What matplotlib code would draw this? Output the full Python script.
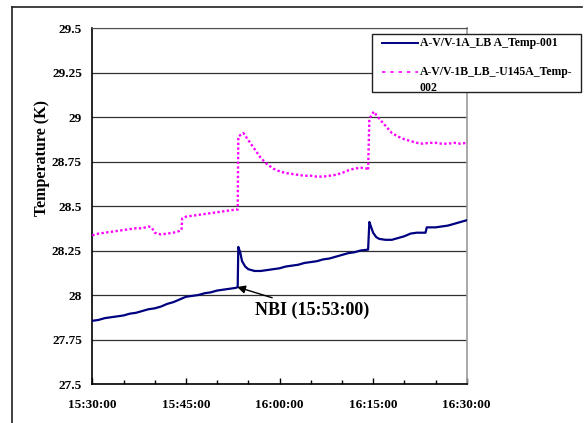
import matplotlib
matplotlib.use("Agg")
import matplotlib.pyplot as plt
from matplotlib.lines import Line2D
from matplotlib.patches import Rectangle

# ---- data (minutes after 15:30:00) ----
blue_t = [0, 1, 2, 3, 4, 5, 6, 7, 8, 9, 10, 11, 12, 13, 14, 15, 16, 17, 18, 19, 20, 21, 22, 23, 23.3,
          23.4, 23.7, 24.0, 24.5, 25, 26, 27, 28, 29, 30, 31, 32, 33, 34, 35, 36, 37, 38, 39, 40, 41, 42, 43, 44.2,
          44.4, 44.7, 45, 45.5, 46, 47, 48, 49, 50, 51, 52, 53.4, 53.6, 54, 55, 56, 57, 58, 59, 60]
blue_v = [27.855, 27.86, 27.87, 27.875, 27.88, 27.885, 27.895, 27.90, 27.91, 27.92, 27.925, 27.935, 27.95,
          27.96, 27.975, 27.99, 27.995, 28.0, 28.01, 28.015, 28.025, 28.03, 28.035, 28.04, 28.045,
          28.27, 28.24, 28.19, 28.16, 28.145, 28.135, 28.135, 28.14, 28.145, 28.15, 28.16, 28.165, 28.17, 28.18,
          28.185, 28.19, 28.2, 28.205, 28.215, 28.225, 28.235, 28.24, 28.25, 28.255,
          28.41, 28.38, 28.35, 28.325, 28.315, 28.31, 28.31, 28.32, 28.33, 28.345, 28.35, 28.35, 28.38, 28.38,
          28.38, 28.385, 28.39, 28.40, 28.41, 28.42]

mag_t = [0, 1, 2, 3, 4, 5, 6, 7, 8, 9, 9.5, 10, 11, 12, 13, 14, 14.3,
         14.4, 15, 16, 17, 18, 19, 20, 21, 22, 23, 23.3,
         23.4, 24.2, 25, 26, 27, 28, 29, 30, 31, 32, 33, 34, 35, 36, 37, 38, 39, 40, 41, 42, 43, 44, 44.2,
         44.4, 45.1, 46, 47, 48, 49, 50, 51, 52, 53, 54, 55, 56, 57, 58, 59, 60]
mag_v = [28.335, 28.345, 28.35, 28.355, 28.36, 28.365, 28.37, 28.375, 28.375, 28.385, 28.38, 28.35, 28.34,
         28.345, 28.35, 28.36, 28.365,
         28.43, 28.44, 28.445, 28.45, 28.455, 28.46, 28.465, 28.47, 28.475, 28.48, 28.48,
         28.89, 28.91, 28.87, 28.82, 28.77, 28.735, 28.71, 28.695, 28.685, 28.68, 28.675, 28.67, 28.67, 28.665,
         28.665, 28.67, 28.675, 28.685, 28.70, 28.71, 28.715, 28.71, 28.70,
         28.99, 29.03, 28.99, 28.95, 28.91, 28.89, 28.875, 28.865, 28.855, 28.85, 28.855, 28.855, 28.85, 28.85,
         28.855, 28.85, 28.855]

series_names = ["A-V/V-1A_LB A_Temp-001", "A-V/V-1B_LB_-U145A_Temp-\n002"]
x_ticks = [0, 15, 30, 45, 60]
x_ticklabels = ["15:30:00", "15:45:00", "16:00:00", "16:15:00", "16:30:00"]
y_ticks = [27.5, 27.75, 28, 28.25, 28.5, 28.75, 29, 29.25, 29.5]
y_ticklabels = ["27.5", "27.75", "28", "28.25", "28.5", "28.75", "29", "29.25", "29.5"]
annotation_text = "NBI (15:53:00)"
nbi_time = 23.2
nbi_value = 28.045

plt.rcParams['font.family'] = ['Liberation Serif', 'DejaVu Serif']
plt.rcParams['font.weight'] = 'bold'

W, H = 587, 423
fig = plt.figure(figsize=(W / 100, H / 100), dpi=100)
ax = fig.add_axes([92.3 / W, 1 - 384 / H, (466.7 - 92.3) / W, (384 - 28) / H])

blue_color = '#000080'
mag_color = '#FF00FF'
ax.plot(blue_t, blue_v, color=blue_color, lw=1.6, zorder=3)
ax.plot(mag_t, mag_v, color=mag_color, lw=1.7, linestyle=(0, (1, 1)), zorder=3)

ax.set_xlim(0, 60)
ax.set_ylim(27.5, 29.5)
ax.set_xticks(x_ticks)
ax.set_xticklabels(x_ticklabels, fontsize=9.5, fontweight='bold')
ax.set_xticks(range(0, 61, 5), minor=True)
ax.set_yticks(y_ticks)
ax.set_yticklabels(y_ticklabels, fontsize=9.5, fontweight='bold')
ax.tick_params(axis='x', which='major', direction='in', length=4, width=1, pad=11)
ax.tick_params(axis='x', which='minor', direction='in', length=3, width=1)
ax.tick_params(axis='y', which='major', direction='in', length=0, pad=7.5)
ax.yaxis.grid(True, color='#303030', lw=0.9)
ax.set_axisbelow(True)
for s in ['left', 'bottom']:
    ax.spines[s].set_color('black')
    ax.spines[s].set_linewidth(1.2)
ax.spines['top'].set_color('#505050')
ax.spines['right'].set_color('#999999')
ax.spines['right'].set_linewidth(1.2)

ax.set_ylabel("Temperature (K)", fontsize=11.5, fontweight='bold')
ax.yaxis.set_label_coords(42 / W, 1 - 157.5 / H, transform=fig.transFigure)
ax.yaxis.label.set_va('center')

ax.annotate(annotation_text, xy=(nbi_time, nbi_value), xytext=(255 / W, 1 - 310 / H),
            textcoords='figure fraction', fontsize=13, fontweight='bold', va='center', ha='left',
            arrowprops=dict(arrowstyle='-|>', color='black', lw=1, mutation_scale=12,
                            shrinkA=2, shrinkB=0))

# figure border (left and top visible)
fig.add_artist(Line2D([12 / W, 12 / W], [0, 1 - 7 / H], color='#202020', lw=1.2,
                      transform=fig.transFigure))
fig.add_artist(Line2D([12 / W, 582 / W], [1 - 7 / H, 1 - 7 / H], color='#202020', lw=1.2,
                      transform=fig.transFigure))

# legend box
fig.add_artist(Rectangle((372 / W, 1 - 92 / H), (581 - 372) / W, (92 - 34) / H, transform=fig.transFigure,
                         facecolor='white', edgecolor='#202020', lw=1, zorder=5))
fig.add_artist(Line2D([382 / W, 418 / W], [1 - 43.3 / H] * 2, color=blue_color, lw=1.4,
                      transform=fig.transFigure, zorder=6))
fig.add_artist(Line2D([382 / W, 418 / W], [1 - 71.7 / H] * 2, color=mag_color, lw=1.2,
                      linestyle=(0, (2, 3)), transform=fig.transFigure, zorder=6))
fig.text(420 / W, 1 - 43.3 / H, series_names[0], fontsize=8.5, fontweight='bold', va='center',
         ha='left', zorder=7)
fig.text(420 / W, 1 - 65.5 / H, series_names[1], fontsize=8.5, fontweight='bold', va='top',
         ha='left', zorder=7, linespacing=1.45)

fig.savefig("out.png", dpi=100)
